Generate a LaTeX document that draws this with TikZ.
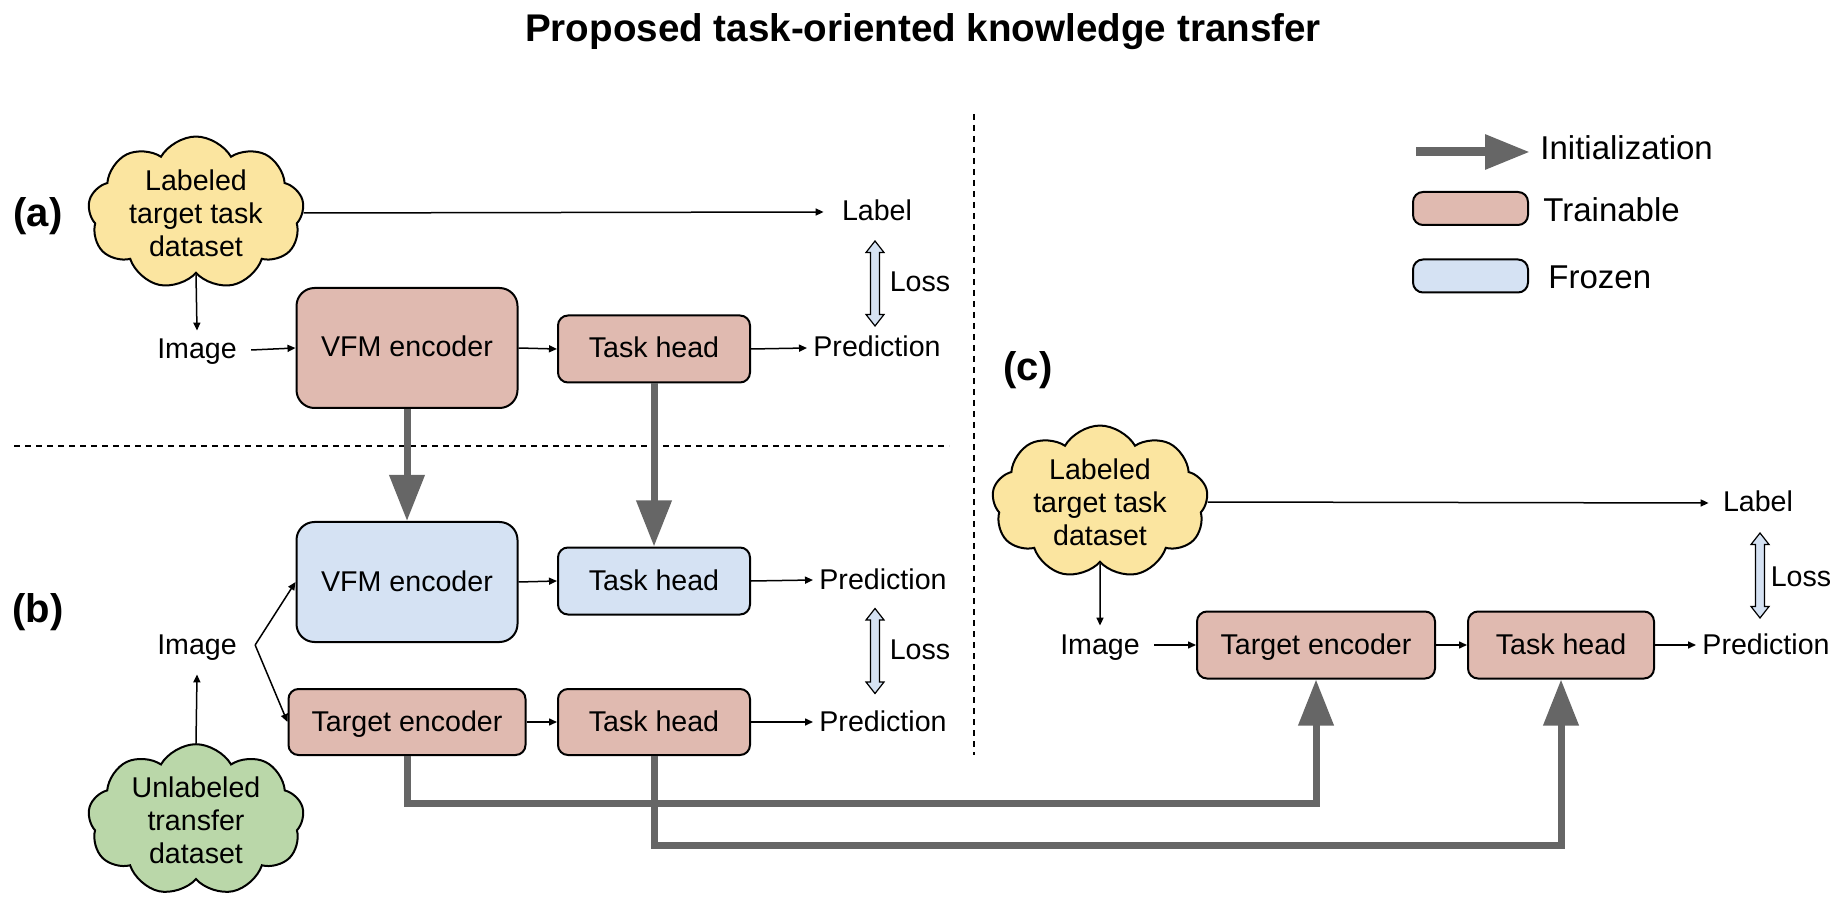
\documentclass[tikz,border=0pt]{standalone}
\usepackage{fontspec}
\setmainfont{Liberation Sans}
\usepackage{xcolor}
\usetikzlibrary{arrows.meta,positioning,shapes.symbols,calc}
\definecolor{ctrain}{HTML}{E0BAB0}
\definecolor{cfrozen}{HTML}{D5E2F3}
\definecolor{cyellow}{HTML}{FBE5A0}
\definecolor{cgreen}{HTML}{BAD7A9}
\definecolor{cgray}{HTML}{666666}

\begin{document}
\begin{tikzpicture}[
    x=0.5pt, y=-0.5pt,
    every node/.style={font=\fontsize{14.3}{16.5}\selectfont},
    txt/.style={inner sep=3pt, text height=0.9em, text depth=0pt},
    blk/.style={draw, line width=1pt, rounded corners=5pt, minimum height=33.5pt, inner sep=0pt,
        text height=0.9em, text depth=0pt},
    bigblk/.style={blk, rounded corners=9pt, minimum width=110.5pt, minimum height=60pt},
    cloudy/.style={cloud, cloud puffs=9, cloud puff arc=120, cloud ignores aspect, draw, line width=1pt,
        align=center, inner sep=0pt, minimum width=108pt, minimum height=68pt},
    tag/.style={font=\fontsize{20}{24}\selectfont\bfseries},
    arr/.style={line width=0.75pt, -{Triangle[length=4pt, width=3.5pt]}},
    initarr/.style={draw=cgray, line width=3.5pt, -{Triangle[length=23pt, width=17pt]}},
    lossarr/.pic={
        \draw[fill=cfrozen, line width=0.6pt] (0,-42.5) -- (9,-31) -- (4.5,-31) -- (4.5,31) -- (9,31)
            -- (0,42.5) -- (-9,31) -- (-4.5,31) -- (-4.5,-31) -- (-9,-31) -- cycle;
    },
]
\useasboundingbox (0,0) rectangle (1846,908);

\node[font=\fontsize{19.3}{23}\selectfont\bfseries] (title) at (923,32) {Proposed task-oriented knowledge transfer};

% dividers
\draw[dashed, dash pattern=on 3pt off 2.5pt, line width=0.65pt] (974,114) -- (974,755);
\draw[dashed, dash pattern=on 3pt off 2.5pt, line width=0.65pt] (14,446) -- (949,446);

% --- (a) fine-tune VFM ---
\node[tag] (tagA) at (38,216) {(a)};
\node[cloudy, fill=cyellow] (cloudA) at (196,213) {Labeled\\target task\\dataset};
\node[txt] (labelA) at (877,212) {Label};
\node[txt] (imgA) at (197,350) {Image};
\node[bigblk, fill=ctrain] (vfmA) at (407,348) {VFM encoder};
\node[blk, fill=ctrain, minimum width=96pt] (headA) at (654,349) {Task head};
\node[txt] (predA) at (877,348) {Prediction};
\pic at (875,283.5) {lossarr};
\node[txt] (lossA) at (920,283) {Loss};

\draw[arr] (cloudA.east) -- ([xshift=-6pt]labelA.west);
\draw[arr] (cloudA.south) -- ([yshift=2pt]imgA.north);
\draw[arr] ([xshift=4pt]imgA.east) -- (vfmA.west);
\draw[arr] (vfmA.east) -- (headA.west);
\draw[arr] (headA.east) -- (predA.west);

% --- (b) distill to target encoder ---
\node[tag] (tagB) at (38,612) {(b)};
\node[bigblk, fill=cfrozen] (vfmB) at (407,582) {VFM encoder};
\node[blk, fill=cfrozen, minimum width=96pt] (headB) at (654,581) {Task head};
\node[txt] (predB) at (883,580) {Prediction};
\node[blk, fill=ctrain, minimum width=118.5pt, minimum height=33pt] (trgB) at (407,722) {Target encoder};
\node[blk, fill=ctrain, minimum width=96pt, minimum height=33pt] (headBB) at (654,722) {Task head};
\node[txt] (predBB) at (883,722) {Prediction};
\pic at (875,651) {lossarr};
\node[txt] (lossB) at (920,650) {Loss};
\node[txt] (imgB) at (197,645) {Image};
\node[cloudy, fill=cgreen] (cloudB) at (196,820) {Unlabeled\\transfer\\dataset};

\draw[arr] (cloudB.north) -- ([yshift=-7pt]imgB.south);
\draw[arr] ([xshift=6pt]imgB.east) -- (vfmB.west);
\draw[arr] ([xshift=6pt]imgB.east) -- (trgB.west);
\draw[arr] (vfmB.east) -- (headB.west);
\draw[arr] (headB.east) -- (predB.west);
\draw[arr] (trgB.east) -- (headBB.west);
\draw[arr] (headBB.east) -- (predBB.west);

% initialization (a) -> (b)
\draw[initarr] (vfmA.south) -- (vfmB.north);
\draw[initarr] (headA.south) -- (headB.north);

% --- (c) fine-tune target model ---
\node[tag] (tagC) at (1028,370) {(c)};
\node[cloudy, fill=cyellow] (cloudC) at (1100,502) {Labeled\\target task\\dataset};
\node[txt] (labelC) at (1758,503) {Label};
\node[txt] (imgC) at (1100,645) {Image};
\node[blk, fill=ctrain, minimum width=119pt] (trgC) at (1316,645) {Target encoder};
\node[blk, fill=ctrain, minimum width=93pt] (headC) at (1561,645) {Task head};
\node[txt] (predC) at (1766,645) {Prediction};
\pic at (1760,575.5) {lossarr};
\node[txt] (lossC) at (1801,577) {Loss};

\draw[arr] (cloudC.east) -- ([xshift=-4pt]labelC.west);
\draw[arr] (cloudC.south) -- ([yshift=2pt]imgC.north);
\draw[arr] ([xshift=4pt]imgC.east) -- (trgC.west);
\draw[arr] (trgC.east) -- (headC.west);
\draw[arr] (headC.east) -- (predC.west);

% initialization (b) -> (c)
\draw[initarr] (trgB.south) -- ++(0,47) -| (trgC.south);
\draw[initarr] (headBB.south) -- ++(0,89) -| (headC.south);

% legend
\coordinate (legS) at (1416,152);
\coordinate (legE) at (1530,152);
\draw[draw=cgray, line width=4.5pt, -{Triangle[length=22.5pt, width=16.5pt]}] (legS) -- (legE);
\node[anchor=west, inner sep=0pt, font=\fontsize{16.5}{20}\selectfont] (legInit) at (1540,148) {Initialization};
\node[blk, fill=ctrain, minimum width=57.5pt, minimum height=16.5pt] (legTrain) at (1470.5,208.5) {};
\node[anchor=west, inner sep=0pt, font=\fontsize{16.5}{20}\selectfont] (legTrainTxt) at (1543,210) {Trainable};
\node[blk, fill=cfrozen, minimum width=57.5pt, minimum height=16.5pt] (legFroz) at (1470.5,276) {};
\node[anchor=west, inner sep=0pt, font=\fontsize{16.5}{20}\selectfont] (legFrozTxt) at (1548,277) {Frozen};

\end{tikzpicture}
\end{document}
